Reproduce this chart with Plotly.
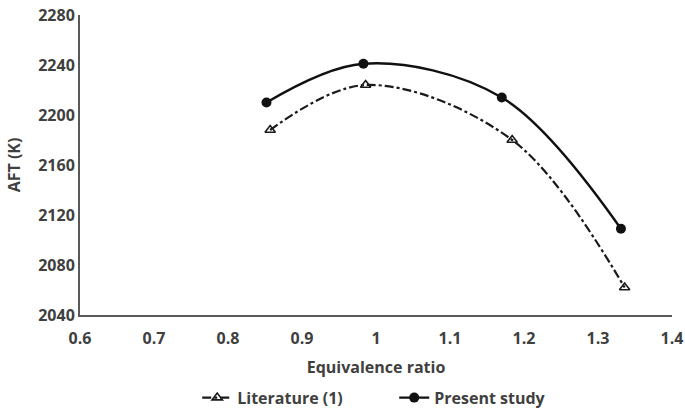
import plotly.graph_objects as go

# Adiabatic flame temperature vs equivalence ratio
lit_phi = [0.857, 0.986, 1.184, 1.336]
lit_aft = [2188, 2224, 2180, 2062]

present_phi = [0.852, 0.983, 1.170, 1.331]
present_aft = [2210, 2241, 2214, 2109]

x_ticks = [0.6, 0.7, 0.8, 0.9, 1.0, 1.1, 1.2, 1.3, 1.4]
x_tick_text = ["0.6", "0.7", "0.8", "0.9", "1", "1.1", "1.2", "1.3", "1.4"]
y_ticks = [2040, 2080, 2120, 2160, 2200, 2240, 2280]

FONT = "Open Sans"
TXT = "#404040"
AX = "#595959"
FS = 16

fig = go.Figure()

fig.add_trace(go.Scatter(
    x=lit_phi, y=lit_aft, name="Literature (1)",
    mode="lines+markers",
    line=dict(color="#1a1a1a", width=2.2, dash="dashdot", shape="spline", smoothing=1),
    marker=dict(symbol="triangle-up-open", size=9, color="#1a1a1a",
                line=dict(width=1.6, color="#1a1a1a")),
))

fig.add_trace(go.Scatter(
    x=present_phi, y=present_aft, name="Present study",
    mode="lines+markers",
    line=dict(color="#111111", width=2.4, shape="spline", smoothing=1),
    marker=dict(symbol="circle", size=10, color="#111111"),
))

fig.update_layout(
    width=685, height=410,
    margin=dict(l=80, r=13, t=15, b=95, autoexpand=False),
    paper_bgcolor="white", plot_bgcolor="white",
    font=dict(family=FONT, size=FS, color=TXT),
    showlegend=True,
    legend=dict(orientation="h", x=0.198, xanchor="left",
                yref="container", y=0.03, yanchor="middle",
                font=dict(family=FONT, size=FS, color=TXT, weight="bold"),
                entrywidth=152, entrywidthmode="pixels",
                itemwidth=30, tracegroupgap=0),
    xaxis=dict(
        range=[0.6, 1.4], tickvals=x_ticks, ticktext=x_tick_text,
        showline=True, linecolor=AX, linewidth=2, showgrid=False, zeroline=False,
        ticks="", ticklen=0, automargin=False, ticklabelstandoff=8,
        tickfont=dict(family=FONT, size=FS, color=TXT, weight="bold"),
        title=dict(text="Equivalence ratio", standoff=14,
                   font=dict(family=FONT, size=FS, color=TXT, weight="bold")),
    ),
    yaxis=dict(
        range=[2040, 2280], tickvals=y_ticks,
        showline=True, linecolor=AX, linewidth=2, showgrid=False, zeroline=False,
        ticks="", ticklen=0, automargin=False,
        tickfont=dict(family=FONT, size=FS, color=TXT, weight="bold"),
        title=dict(text="AFT (K)", standoff=14,
                   font=dict(family=FONT, size=FS, color=TXT, weight="bold")),
    ),
)

fig.write_html("out.html")
